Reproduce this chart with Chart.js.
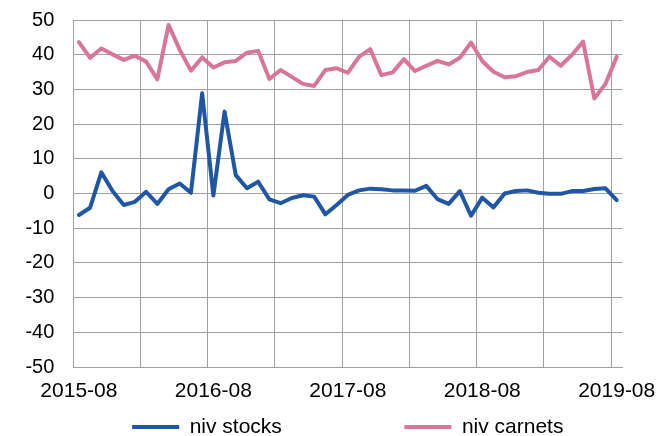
<!DOCTYPE html>
<html>
<head>
<meta charset="utf-8">
<script src="https://cdn.jsdelivr.net/npm/chart.js@4/dist/chart.umd.min.js"></script>
<style>
  html, body { margin: 0; padding: 0; background: #ffffff; }
  #wrap { width: 668px; height: 436px; position: relative; }
</style>
</head>
<body>
<div id="wrap"><canvas id="c"></canvas></div>
<script>
const months = [
  '2015-08','2015-09','2015-10','2015-11','2015-12','2016-01','2016-02','2016-03','2016-04','2016-05','2016-06','2016-07',
  '2016-08','2016-09','2016-10','2016-11','2016-12','2017-01','2017-02','2017-03','2017-04','2017-05','2017-06','2017-07',
  '2017-08','2017-09','2017-10','2017-11','2017-12','2018-01','2018-02','2018-03','2018-04','2018-05','2018-06','2018-07',
  '2018-08','2018-09','2018-10','2018-11','2018-12','2019-01','2019-02','2019-03','2019-04','2019-05','2019-06','2019-07',
  '2019-08'
];
const xTickLabels = ['2015-08', '2016-08', '2017-08', '2018-08', '2019-08'];
const seriesNames = ['niv stocks', 'niv carnets'];
const nivStocks = [
  -6.2, -4.1, 6.1, 0.7, -3.3, -2.4, 0.5, -3.0, 1.2, 2.9, 0.2, 28.9,
  -0.6, 23.6, 5.3, 1.5, 3.4, -1.7, -2.8, -1.3, -0.5, -0.9, -6.0, -3.3,
  -0.4, 0.9, 1.4, 1.2, 0.9, 0.9, 0.8, 2.2, -1.6, -3.0, 0.7, -6.4,
  -1.2, -4.0, 0.0, 0.7, 0.9, 0.2, -0.1, -0.1, 0.7, 0.7, 1.3, 1.5,
  -1.9
];
const nivCarnets = [
  43.6, 39.1, 41.8, 40.1, 38.5, 39.7, 38.0, 32.9, 48.6, 41.4, 35.4, 39.2,
  36.3, 37.8, 38.2, 40.6, 41.1, 33.0, 35.6, 33.6, 31.6, 31.0, 35.6, 36.1,
  34.8, 39.4, 41.6, 34.1, 34.9, 38.7, 35.3, 36.8, 38.2, 37.2, 39.1, 43.5,
  38.2, 35.1, 33.5, 33.8, 35.0, 35.6, 39.4, 36.8, 39.9, 43.8, 27.4, 31.6,
  39.4
];
const yMin = -50, yMax = 50, yStep = 10;

const GRID = '#a0a0a0';
const FONT = 'Liberation Sans, Arial, Helvetica, sans-serif';

new Chart(document.getElementById('c'), {
  type: 'line',
  data: {
    labels: months,
    datasets: [
      {
        label: seriesNames[0],
        data: nivStocks,
        borderColor: '#1f57a6',
        backgroundColor: '#1f57a6',
        borderWidth: 4,
        pointRadius: 0,
        pointHoverRadius: 0,
        tension: 0,
        borderJoinStyle: 'round',
        borderCapStyle: 'round'
      },
      {
        label: seriesNames[1],
        data: nivCarnets,
        borderColor: '#d87598',
        backgroundColor: '#d87598',
        borderWidth: 4,
        pointRadius: 0,
        pointHoverRadius: 0,
        tension: 0,
        borderJoinStyle: 'round',
        borderCapStyle: 'round'
      }
    ]
  },
  options: {
    responsive: true,
    maintainAspectRatio: false,
    animation: false,
    events: [],
    layout: { padding: { left: 6.4, right: 45.7, top: 20, bottom: 0 } },
    scales: {
      x: {
        type: 'category',
        offset: true,
        grid: {
          offset: true,
          drawTicks: false,
          lineWidth: 1,
          color: (ctx) => (ctx.index !== undefined && ctx.index % 6 === 0) ? GRID : 'rgba(0,0,0,0)'
        },
        border: { display: true, color: GRID, width: 1 },
        ticks: {
          autoSkip: false,
          maxRotation: 0,
          minRotation: 0,
          padding: 12.1,
          color: '#000000',
          font: { family: FONT, size: 21, lineHeight: 1.2 },
          callback: function (value) {
            const lab = this.getLabelForValue(value);
            return xTickLabels.includes(lab) ? lab : '';
          }
        }
      },
      y: {
        min: yMin,
        max: yMax,
        grid: { drawTicks: false, color: GRID, lineWidth: 1 },
        border: { display: true, color: GRID, width: 1 },
        ticks: {
          stepSize: yStep,
          padding: 19,
          color: '#000000',
          font: { family: FONT, size: 20, lineHeight: 0.05 }
        }
      }
    },
    plugins: {
      tooltip: { enabled: false },
      title: { display: false },
      legend: {
        display: true,
        position: 'bottom',
        fullSize: false,
        maxHeight: 19.6,
        labels: {
          usePointStyle: true,
          pointStyle: 'line',
          pointStyleWidth: 47,
          padding: 0,
          color: '#000000',
          font: { family: FONT, size: 21 },
          generateLabels: (chart) => {
            const items = Chart.defaults.plugins.legend.labels.generateLabels(chart);
            items.forEach((it, i) => {
              it.lineWidth = 4;
              if (i === 0) it.text = it.text + ' '.repeat(21);
            });
            return items;
          }
        }
      }
    }
  }
});
</script>
</body>
</html>
